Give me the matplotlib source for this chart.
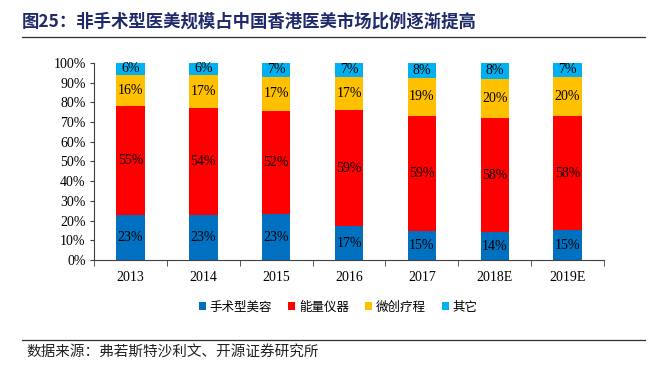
import matplotlib
matplotlib.use("Agg")
import matplotlib.pyplot as plt
from matplotlib.patches import Patch
from matplotlib.lines import Line2D
import numpy as np

years = ["2013", "2014", "2015", "2016", "2017", "2018E", "2019E"]
series_names = ["手术型美容", "能量仪器", "微创疗程", "其它"]
surgical = [23, 23, 23, 17, 15, 14, 15]
energy = [55, 54, 52, 59, 59, 58, 58]
minimal = [16, 17, 17, 17, 19, 20, 20]
other = [6, 6, 7, 7, 8, 8, 7]
colors = ["#0070C0", "#FF0000", "#FFC000", "#00B0F0"]

title = "图25：非手术型医美规模占中国香港医美市场比例逐渐提高"
source = "数据来源：弗若斯特沙利文、开源证券研究所"

cjk = ["Noto Sans CJK SC", "DejaVu Sans"]
serif = ["Liberation Serif", "DejaVu Serif"]

fig = plt.figure(figsize=(6.53, 3.66), dpi=100)
ax = fig.add_axes([0.144, 0.2896, 0.781, 0.5388])

data = np.array([surgical, energy, minimal, other], dtype=float)
totals = data.sum(axis=0)
frac = data / totals
x = np.arange(len(years))
bottom = np.zeros(len(years))
for i in range(4):
    ax.bar(x, frac[i], width=0.39, bottom=bottom, color=colors[i], zorder=2)
    for j in range(len(years)):
        ax.text(x[j], bottom[j] + frac[i][j] / 2, f"{int(data[i][j])}%",
                ha="center", va="center", fontsize=10, family=serif, color="black")
    bottom += frac[i]

ax.set_xlim(-0.5, len(years) - 0.5)
ax.set_ylim(0, 1.0)
ax.set_yticks(np.arange(0, 1.01, 0.1))
ax.set_yticklabels([f"{int(round(v*100))}%" for v in np.arange(0, 1.01, 0.1)],
                   family=serif, fontsize=10)
ax.set_xticks(x)
ax.set_xticklabels(years, family=serif, fontsize=10)
ax.set_xticks(np.arange(-0.5, len(years) + 0.5, 1), minor=True)
ax.tick_params(axis="x", which="major", length=0, pad=8)
ax.tick_params(axis="x", which="minor", length=4, direction="out", color="#404040")
ax.tick_params(axis="y", length=3, direction="out", color="#404040", pad=3)
for s in ["top", "right"]:
    ax.spines[s].set_visible(False)
for s in ["left", "bottom"]:
    ax.spines[s].set_color("#404040")
    ax.spines[s].set_linewidth(0.8)

handles = [Patch(facecolor=c, edgecolor="none") for c in colors]
fig.legend(handles, series_names, loc="center", bbox_to_anchor=(0.518, 0.161),
           ncol=4, frameon=False, prop={"family": cjk, "size": 9},
           handlelength=0.55, handleheight=0.55, handletextpad=0.3, columnspacing=1.3)

fig.text(22/653, 1 - 22/366, title, ha="left", va="center", fontsize=12.5,
         fontweight="bold", color="#1F2A6B", family=cjk)
fig.add_artist(Line2D([22/653, 645/653], [1 - 37/366, 1 - 37/366], color="#303030", lw=0.9))
fig.add_artist(Line2D([22/653, 645/653], [1 - 340/366, 1 - 340/366], color="#303030", lw=0.9))
fig.text(26/653, 1 - 353/366, source, ha="left", va="center", fontsize=10.5,
         color="#222222", family=cjk)

fig.savefig("out.png", dpi=100)
